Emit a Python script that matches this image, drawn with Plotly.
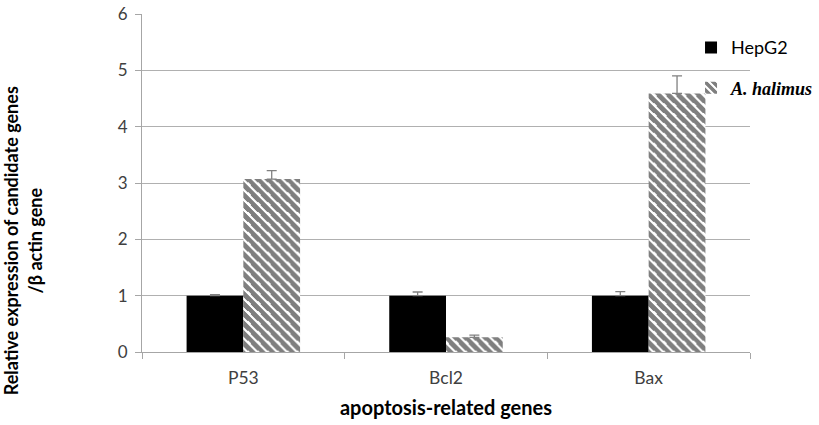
import plotly.graph_objects as go

categories = ["P53", "Bcl2", "Bax"]
hepg2 = [1.0, 1.0, 1.0]
hepg2_err = [0.02, 0.065, 0.07]
halimus = [3.07, 0.26, 4.59]
halimus_err = [0.15, 0.04, 0.31]
y_ticks = [0, 1, 2, 3, 4, 5, 6]

font_main = "Lato, 'Open Sans', sans-serif"

fig = go.Figure()
fig.add_trace(go.Bar(
    x=categories, y=hepg2, name="HepG2", legendgroup="a",
    marker=dict(color="black", line=dict(width=0)),
    error_y=dict(type="data", symmetric=False, array=hepg2_err,
                 arrayminus=[0] * 3, color="#808080", thickness=1.3, width=5),
))
fig.add_trace(go.Bar(
    x=categories, y=halimus,
    name='<span style="font-family:\'Liberation Serif\',serif"><b><i>A. halimus</i></b></span>',
    legendgroup="b",
    marker=dict(color="white", line=dict(width=0),
                pattern=dict(shape="\\", fgcolor="black", bgcolor="white",
                             size=7, solidity=0.6)),
    error_y=dict(type="data", symmetric=False, array=halimus_err,
                 arrayminus=[0] * 3, color="#808080", thickness=1.3, width=5),
))

fig.update_layout(
    width=819, height=425,
    margin=dict(l=142, r=69, t=14, b=73, autoexpand=False),
    paper_bgcolor="white", plot_bgcolor="white",
    barmode="group", bargap=0.44, bargroupgap=0,
    font=dict(family=font_main, color="#404040", size=15),
    showlegend=True,
    legend=dict(x=0.903, y=0.955, xanchor="left", yanchor="top",
                tracegroupgap=14, font=dict(size=18, color="black"),
                bgcolor="rgba(0,0,0,0)", itemwidth=30),
    annotations=[dict(
        text="<b>Relative expression of candidate genes<br>/β actin gene</b>",
        xref="paper", yref="paper", x=-0.196, y=0.33,
        xanchor="center", yanchor="middle", textangle=-90, showarrow=False,
        font=dict(size=18, color="black", family=font_main),
    )],
)
fig.update_xaxes(
    automargin=False,
    showline=True, linecolor="#a6a6a6", linewidth=1,
    ticks="outside", tickson="boundaries", ticklen=6, tickcolor="#a6a6a6",
    ticklabelstandoff=10,
    tickfont=dict(size=17.5, color="#404040"),
    title=dict(text="<b>apoptosis-related genes</b>", font=dict(size=20, color="black"), standoff=13),
)
fig.update_yaxes(
    automargin=False,
    range=[0, 6], tickvals=y_ticks,
    showline=True, linecolor="#a6a6a6", linewidth=1,
    showgrid=True, gridcolor="#b0b0b0", gridwidth=1,
    ticks="outside", ticklen=6, tickcolor="#a6a6a6",
    ticklabelstandoff=4,
    tickfont=dict(size=17, color="#404040"),
    zeroline=False,
)

post = (
    "document.body.style.margin='0';"
    "document.querySelectorAll('pattern path').forEach(function(p){"
    "p.setAttribute('shape-rendering','crispEdges');});"
)
fig.write_html("out.html", post_script=post, config={"displayModeBar": False})
